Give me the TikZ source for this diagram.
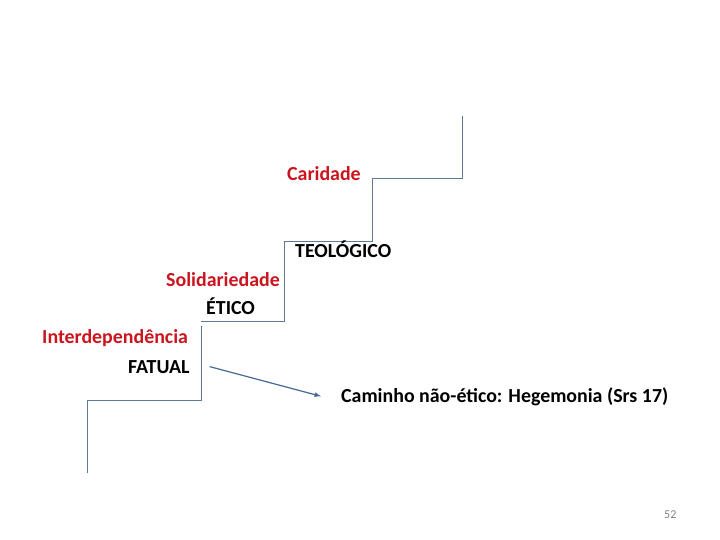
\documentclass[tikz,border=0pt]{standalone}
\usepackage{fontspec}
\setmainfont{Carlito}
\usepackage{tikz}
\usetikzlibrary{arrows}
\definecolor{stairblue}{RGB}{95,120,150}
\definecolor{arrowblue}{RGB}{70,105,150}
\definecolor{labelred}{RGB}{204,20,30}

\begin{document}
\begin{tikzpicture}[x=1pt, y=-1pt, every node/.style={inner sep=0pt, anchor=base west, font=\fontsize{19.9}{24}\selectfont\bfseries}]
	\useasboundingbox (0,0) rectangle (720,540);
	\draw[stairblue, line width=1pt] (87,473) -- (87,400) -- (201,400) -- (201,326);
	\draw[stairblue, line width=1pt] (201,321) -- (284,321) -- (284,241) -- (372,241) -- (372,179) -- (462,179) -- (462,116);
	\node[text=labelred] (caridade) at (287,181) {Caridade};
	\node (teologico) at (295,258) {TEOLÓGICO};
	\node[text=labelred] (solidariedade) at (166,286) {Solidariedade};
	\node (etico) at (206,314) {ÉTICO};
	\node[text=labelred] (interdep) at (42,343) {Interdependência};
	\node (fatual) at (128,373) {FATUAL};
	\node (caminho) at (341,402) {Caminho não-ético: Hegemonia (Srs 17)};
	\node[text=gray, font=\fontsize{12}{14}\selectfont] (pagenum) at (664,518) {52};
	\draw[arrowblue, line width=1.2pt, arrows=-latex] ([xshift=20pt]fatual.east) -- ([xshift=-20pt]caminho.west);
\end{tikzpicture}
\end{document}
